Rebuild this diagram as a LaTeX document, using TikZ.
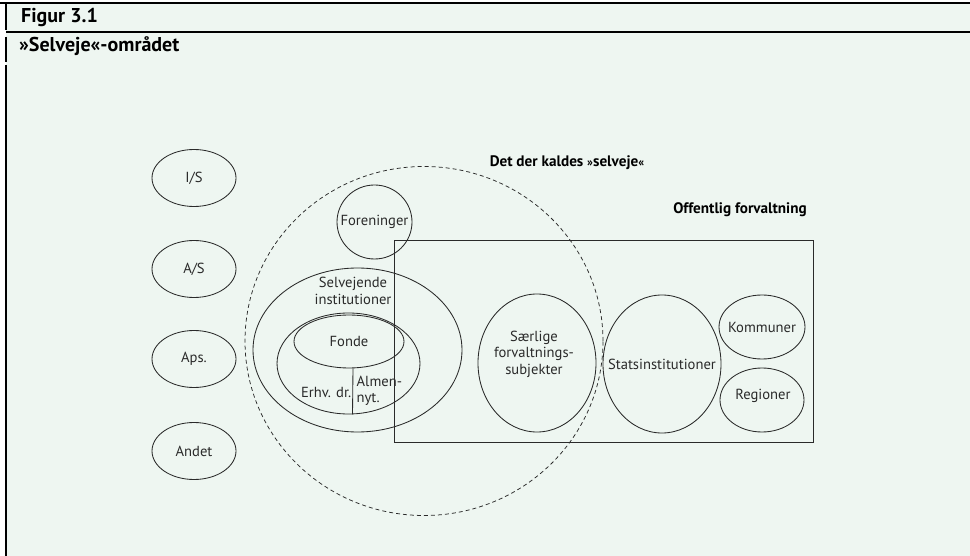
\documentclass[tikz,border=0pt]{standalone}
\usepackage{fontspec}
\setmainfont{PT Sans}
\usetikzlibrary{shapes.geometric}
\definecolor{bg}{HTML}{EEF6F1}
\definecolor{ln}{HTML}{2A2A2A}
\begin{document}
\begin{tikzpicture}[x=1pt,y=-1pt,
  ov/.style={draw=ln,line width=0.85pt,ellipse,inner sep=0pt},
  txt/.style={font=\fontsize{14.6}{16.5}\selectfont,text=ln,align=center,inner sep=0pt},
  hd/.style={font=\fontsize{15.2}{17}\selectfont\bfseries,text=black,inner sep=0pt},
  ttl/.style={font=\fontsize{20}{23}\selectfont\bfseries,anchor=west,inner sep=0pt,text=black}]
\useasboundingbox (0,0) rectangle (970,556);
\fill[white] (0,0) rectangle (970,556);
\fill[bg] (6,3) rectangle (970,556);
% frame
\draw[line width=1.4pt] (0,3) -- (970,3);
\draw[line width=1.2pt] (6,32) -- (970,32);
\draw[line width=1.8pt] (6,4) -- (6,30);
\draw[line width=1.8pt] (6,37) -- (6,62);
\draw[line width=1.8pt] (6,65) -- (6,556);
\node[ttl] (fig) at (21,18) {Figur 3.1};
\node[ttl] (sub) at (19,46) {»Selveje«-området};
% left column
\node[ov,minimum width=84pt,minimum height=57pt] (is) at (194,178) {};
\node[txt] at (is) {I/S};
\node[ov,minimum width=84pt,minimum height=57pt] (as) at (194,269) {};
\node[txt] at (as) {A/S};
\node[ov,minimum width=84pt,minimum height=57pt] (aps) at (194,359) {};
\node[txt] at (aps) {Aps.};
\node[ov,minimum width=84pt,minimum height=57pt] (andet) at (194,451) {};
\node[txt] at (andet) {Andet};
% dashed selveje circle
\node[draw=ln,line width=0.75pt,dash pattern=on 4pt off 3pt,ellipse,inner sep=0pt,minimum width=358pt,minimum height=349pt] (selv) at (424,341) {};
\node[hd] (selvlab) at (567,163) {Det der kaldes {\fontsize{12}{13}\selectfont»}selveje{\fontsize{12}{13}\selectfont«}};
% offentlig forvaltning
\node[draw=ln,line width=0.9pt,rectangle,inner sep=0pt,minimum width=419pt,minimum height=202pt] (off) at (603.5,341) {};
\node[hd] (offlab) at (740,210) {Offentlig forvaltning};
% foreninger
\node[ov,minimum width=75pt,minimum height=74pt] (for) at (374.5,222) {};
\node[txt] at (for) {Foreninger};
% selvejende institutioner
\node[ov,minimum width=209pt,minimum height=164pt] (si) at (357.5,350) {};
\node[txt] (silab) at (353,291) {Selvejende\\institutioner};
\node[ov,minimum width=143pt,minimum height=101pt] (inner) at (348.5,363.5) {};
\node[ov,minimum width=110pt,minimum height=53pt] (fonde) at (349,341.5) {};
\node[txt] at (fonde) {Fonde};
\draw[ln,line width=0.85pt] ([xshift=4pt]fonde.south) -- ([xshift=4pt]inner.south);
\node[txt,anchor=east] (erhv) at (351.5,392) {Erhv. dr.};
\node[txt,align=left,anchor=west] (almen) at (356.5,391) {Almen-\\nyt.};
% public bodies
\node[ov,minimum width=118pt,minimum height=138pt] (saer) at (537,363) {};
\node[txt] at (534,354) {Særlige\\forvaltnings-\\subjekter};
\node[ov,minimum width=118pt,minimum height=138pt] (stat) at (662,364) {};
\node[txt] at (stat) {Statsinstitutioner};
\node[ov,minimum width=86pt,minimum height=64pt] (komm) at (762,327) {};
\node[txt] at (komm) {Kommuner};
\node[ov,minimum width=84pt,minimum height=64pt] (reg) at (762,400) {};
\node[txt] at (763,396) {Regioner};
\end{tikzpicture}
\end{document}
